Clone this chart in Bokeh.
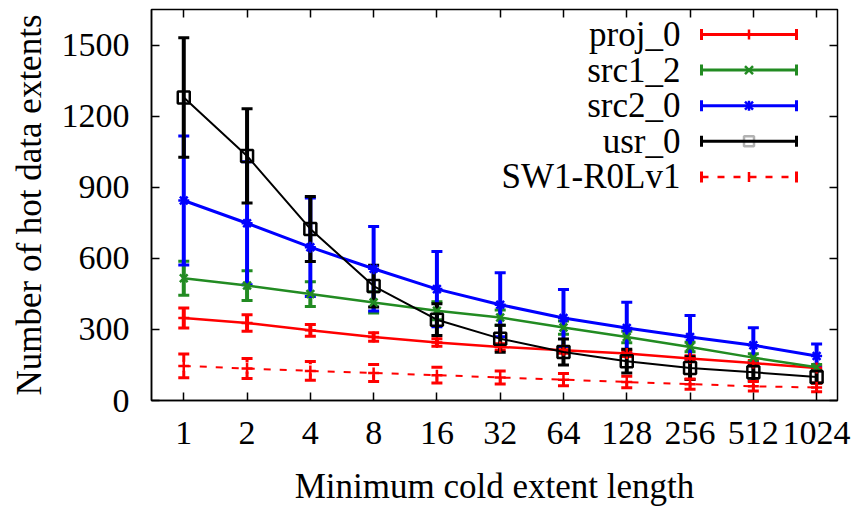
from bokeh.plotting import figure
from bokeh.models import (Range1d, FixedTicker, LinearAxis, ColumnDataSource, Whisker,
                          TeeHead, Arrow, Label, BoxAnnotation, CustomLabelingPolicy)
from bokeh.embed import file_html
from bokeh.resources import INLINE

# ---------------- data ----------------
x_labels = ["1", "2", "4", "8", "16", "32", "64", "128", "256", "512", "1024"]

proj_0 = [348, 327, 296, 268, 245, 226, 212, 198, 177, 158, 137]
proj_0_err = [42, 35, 25, 18, 16, 14, 13, 12, 12, 11, 10]

src1_2 = [516, 485, 449, 414, 379, 350, 308, 268, 226, 181, 140]
src1_2_err = [72, 63, 52, 45, 38, 32, 28, 24, 20, 16, 12]

src2_0 = [844, 748, 647, 556, 470, 404, 348, 306, 268, 233, 188]
src2_0_err = [272, 260, 208, 178, 159, 135, 120, 109, 91, 74, 50]

usr_0 = [1279, 1032, 724, 483, 341, 261, 205, 166, 137, 119, 99]
usr_0_err = [252, 199, 137, 88, 67, 57, 55, 50, 48, 36, 25]

sw1_r0lv1 = [146, 135, 125, 116, 107, 97, 88, 78, 69, 60, 55]
sw1_r0lv1_err = [50, 42, 40, 36, 33, 27, 26, 24, 22, 20, 18]

y_ticks = [0, 300, 600, 900, 1200, 1500]

series = [
    ("proj_0", proj_0, proj_0_err, "#ff0000", "cross", "solid", 2.5, 4),
    ("src1_2", src1_2, src1_2_err, "#228b22", "x", "solid", 2.5, 4),
    ("src2_0", src2_0, src2_0_err, "#0000ff", "asterisk", "solid", 3, 4),
    ("usr_0", usr_0, usr_0_err, "#000000", "square", "solid", 2, 4),
    ("SW1-R0Lv1", sw1_r0lv1, sw1_r0lv1_err, "#ff0000", "cross", "7 9", 2, 3),
]

FONT = "Liberation Serif"
FRAME_W, FRAME_H = 686, 391

p = figure(width=851, height=497, frame_width=FRAME_W, frame_height=FRAME_H,
           x_range=Range1d(-0.51, 10.33), y_range=Range1d(0, 1650),
           output_backend="svg", toolbar_location=None,
           min_border_left=151, min_border_top=9, min_border_right=14,
           min_border_bottom=97, background_fill_color="white")
p.xgrid.visible = False
p.ygrid.visible = False
p.outline_line_color = "black"
p.outline_line_width = 1.5

xs = list(range(len(x_labels)))

for ax in (p.xaxis[0], p.yaxis[0]):
    ax.major_tick_in = 8
    ax.major_tick_out = 0
    ax.minor_tick_in = 0
    ax.minor_tick_out = 0
    ax.axis_line_color = "black"
    ax.axis_line_width = 1.5
    ax.major_tick_line_width = 1.5
    ax.major_label_text_font = FONT
    ax.major_label_text_font_size = "34px"
    ax.major_label_text_color = "black"
    ax.axis_label_text_font = FONT
    ax.axis_label_text_font_size = "35px"
    ax.axis_label_text_font_style = "normal"
    ax.axis_label_text_color = "black"

p.xaxis[0].ticker = FixedTicker(ticks=xs)
p.xaxis[0].major_label_overrides = {i: s for i, s in enumerate(x_labels)}
p.xaxis[0].major_label_standoff = 21
p.xaxis[0].axis_label = "Minimum cold extent length"
p.xaxis[0].axis_label_standoff = 20

p.yaxis[0].ticker = FixedTicker(ticks=y_ticks)
p.yaxis[0].major_label_standoff = 22
p.yaxis[0].axis_label = "Number of hot data extents"
p.yaxis[0].axis_label_standoff = 10

hide_all = CustomLabelingPolicy(code="""
    const all = [...indices]
    for (const i of all) indices.unset(i)
    return indices
""")
top = LinearAxis(ticker=FixedTicker(ticks=xs), major_tick_in=8, major_tick_out=0,
                 major_label_policy=hide_all, major_label_text_font_size="1px",
                 major_label_standoff=0, axis_line_color=None,
                 major_tick_line_width=1.5, minor_tick_in=0, minor_tick_out=0)
right = LinearAxis(ticker=FixedTicker(ticks=y_ticks), major_tick_in=8, major_tick_out=0,
                   major_label_policy=hide_all, major_label_text_font_size="1px",
                   major_label_standoff=0, axis_line_color=None,
                   major_tick_line_width=1.5, minor_tick_in=0, minor_tick_out=0)
p.add_layout(top, "above")
p.add_layout(right, "right")

for name, ys, errs, color, marker, dash, lw, ew in series:
    src = ColumnDataSource(dict(x=xs, y=ys,
                                lo=[v - e for v, e in zip(ys, errs)],
                                hi=[v + e for v, e in zip(ys, errs)]))
    w = Whisker(source=src, base="x", lower="lo", upper="hi", dimension="height",
                line_color=color, line_width=ew, line_dash=dash,
                upper_head=TeeHead(size=11, line_color=color, line_width=3),
                lower_head=TeeHead(size=11, line_color=color, line_width=3))
    p.add_layout(w)
    p.line("x", "y", source=src, line_color=color, line_width=lw, line_dash=dash)
    if marker == "square":
        p.scatter("x", "y", source=src, marker=marker, size=12, line_color=color,
                  line_width=2.5, fill_color=None)
    else:
        p.scatter("x", "y", source=src, marker=marker, size=11, line_color=color,
                  line_width=2.5, fill_color=color)

# ---------------- legend (gnuplot style: text left, sample right) ----------------
LEG_TEXT_X = 529          # right edge of legend text, px from frame left
LEG_X0, LEG_X1 = 550, 645  # sample line, px from frame left
LEG_TOP = 25              # first row centre, px below frame top
LEG_STEP = 35.6
for k, (name, ys, errs, color, marker, dash, lw, ew) in enumerate(series):
    sy = FRAME_H - LEG_TOP - k * LEG_STEP
    p.add_layout(Label(x=LEG_TEXT_X, y=sy, x_units="screen", y_units="screen",
                       text=name, text_align="right", text_baseline="middle",
                       text_font=FONT, text_font_size="35px", text_color="black"))
    p.add_layout(Arrow(x_start=LEG_X0, y_start=sy, x_end=LEG_X1, y_end=sy,
                       start_units="screen", end_units="screen",
                       line_color=color, line_width=3 if dash == "solid" else 2.5,
                       line_dash=dash,
                       start=TeeHead(size=11, line_color=color, line_width=3),
                       end=TeeHead(size=11, line_color=color, line_width=3)))
    cx = (LEG_X0 + LEG_X1) / 2
    if marker == "square":
        p.add_layout(BoxAnnotation(left=cx - 5, right=cx + 5, bottom=sy - 5, top=sy + 5,
                                   left_units="screen", right_units="screen",
                                   bottom_units="screen", top_units="screen",
                                   fill_alpha=0, line_color=color, line_width=2.5))
    else:
        segs = []
        if marker in ("cross", "asterisk"):
            segs.append((cx, sy - 5, cx, sy + 5))
        if marker in ("x", "asterisk"):
            segs += [(cx - 4, sy - 4, cx + 4, sy + 4), (cx - 4, sy + 4, cx + 4, sy - 4)]
        for (a, b, c, d) in segs:
            p.add_layout(Arrow(x_start=a, y_start=b, x_end=c, y_end=d,
                               start_units="screen", end_units="screen",
                               line_color=color, line_width=2.5, end=None))

open("out.html", "w").write(file_html(p, INLINE))
